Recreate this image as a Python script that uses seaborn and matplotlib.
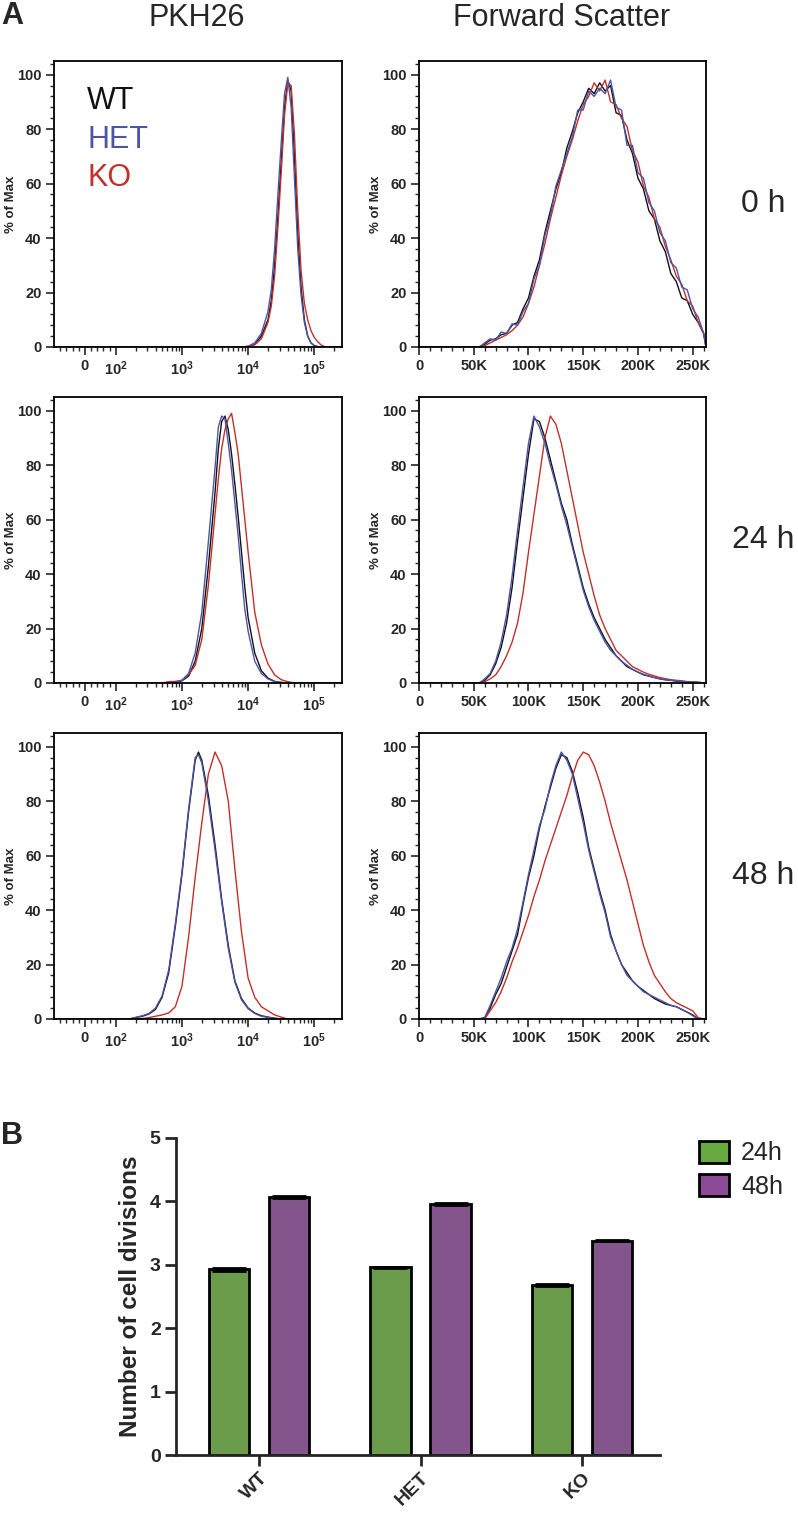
import numpy as np
import pandas as pd
import matplotlib
matplotlib.use("Agg")
import matplotlib.pyplot as plt
import seaborn as sns
from matplotlib.ticker import FixedLocator, MultipleLocator
from matplotlib.patches import Patch

# ---------------- data ----------------
GENOTYPES = ["WT", "HET", "KO"]
COLORS = {"WT": "#111111", "HET": "#4a55a8", "KO": "#c3302a"}

# PKH26 histograms: x grid in log10(fluorescence), y = % of max
PKH_0H_LOG = [3.9, 4.0, 4.1, 4.2, 4.3, 4.35, 4.4, 4.45, 4.5, 4.55, 4.6, 4.65, 4.7,
              4.75, 4.8, 4.85, 4.9, 4.95, 5.0, 5.05, 5.1, 5.15, 5.2]
PKH_0H_WT = [0, 0.2, 1, 4, 10, 17, 30, 48, 68, 88, 98, 94, 70, 42, 22, 10, 4, 1.5, 0.5, 0.1, 0, 0, 0]
PKH_0H_HET = [0, 0.3, 1.5, 5, 13, 21, 36, 56, 75, 93, 99, 88, 62, 36, 19, 9, 4, 1.5, 0.5, 0.2, 0, 0, 0]
PKH_0H_KO = [0, 0.2, 0.8, 3, 9, 15, 26, 44, 64, 85, 97, 96, 78, 50, 28, 16, 10, 6, 3.5, 2, 0.8, 0.2, 0]

PKH_24H_LOG = [2.7, 2.8, 2.9, 3.0, 3.1, 3.2, 3.3, 3.4, 3.5, 3.55, 3.6, 3.65, 3.7, 3.75,
               3.8, 3.85, 3.9, 3.95, 4.0, 4.1, 4.2, 4.3, 4.4, 4.5, 4.6, 4.7]
PKH_24H_WT = [0, 0, 0.2, 0.8, 2.5, 8, 20, 43, 70, 86, 96, 98, 93, 84, 73, 61, 48, 35, 24, 11,
              4.5, 1.8, 0.6, 0.2, 0, 0]
PKH_24H_HET = [0, 0, 0.3, 1, 3.5, 11, 26, 52, 79, 94, 98, 97, 88, 78, 66, 54, 40, 27, 19, 8,
               3.5, 1.5, 0.5, 0.2, 0, 0]
PKH_24H_KO = [0, 0.5, 0.6, 1, 3, 6.5, 16, 36, 62, 75, 86, 93, 97, 99, 92, 84, 72, 60, 48, 26,
              14, 7, 3, 1.2, 0.5, 0]

PKH_48H_LOG = [2.2, 2.3, 2.4, 2.5, 2.6, 2.7, 2.8, 2.9, 3.0, 3.1, 3.2, 3.25, 3.3, 3.4, 3.5,
               3.6, 3.7, 3.8, 3.9, 4.0, 4.1, 4.2, 4.3, 4.4, 4.5, 4.6]
PKH_48H_WT = [0, 0.5, 1, 1.8, 3.5, 8, 17, 34, 53, 76, 95, 98, 95, 82, 64, 44, 27, 14, 7.5, 4,
              2.2, 1.2, 0.7, 0.3, 0, 0]
PKH_48H_HET = [0, 0.6, 1.2, 2, 4, 8.5, 18, 35, 54, 77, 96, 97, 94, 80, 62, 43, 26, 13.5, 7,
               3.8, 2, 1, 0.6, 0.2, 0, 0]
PKH_48H_KO = [0, 0, 0.2, 0.5, 1, 1.5, 2.2, 4.5, 12, 30, 52, 62, 72, 90, 98, 93, 80, 55, 32,
              15, 8, 4.5, 3, 1.5, 0.7, 0]

# Forward scatter histograms: x grid in thousands (K)
FSC_K = [50, 55, 60, 65, 70, 75, 80, 85, 90, 95, 100, 105, 110, 115, 120, 125, 130, 135,
         140, 145, 150, 155, 160, 165, 170, 175, 180, 185, 190, 195, 200, 205, 210, 215,
         220, 225, 230, 235, 240, 245, 250, 255, 260]
FSC_0H_WT = [0, 0, 1, 2.5, 3, 4.5, 5, 8, 9, 14, 18, 26, 32, 42, 50, 58, 64, 73, 79, 86, 90, 95,
             93, 97, 94, 96, 86, 85, 76, 71, 62, 58, 50, 47, 39, 35, 27, 24, 18, 17, 12, 9, 5]
FSC_0H_HET = [0, 0, 1.5, 3, 2.5, 5.5, 5, 8.5, 8, 13, 16, 25, 30, 41, 48, 59, 65, 71, 77, 87, 87,
              94, 92, 95, 93, 98, 88, 87, 74, 74, 64, 62, 53, 50, 42, 39, 31, 29, 22, 21, 14,
              11, 5]
FSC_0H_KO = [0, 0, 0.5, 1.5, 2.5, 3.5, 4.5, 6, 8, 11, 16, 22, 30, 38, 47, 55, 63, 70, 76, 83,
             89, 92, 97, 94, 98, 90, 89, 84, 81, 72, 68, 59, 55, 47, 44, 37, 32, 26, 23, 17,
             15, 9, 5]

FSC_24H_WT = [0, 0, 1, 3, 7, 13, 22, 35, 52, 68, 84, 97, 96, 90, 82, 74, 66, 60, 51, 43, 35,
              29, 24, 20, 16, 13, 10, 8, 6, 5, 4, 3, 2.5, 2, 1.5, 1.2, 1, 0.7, 0.5, 0.4, 0.3,
              0.2, 0]
FSC_24H_HET = [0, 0, 1.5, 3.5, 8, 15, 25, 39, 56, 72, 88, 98, 94, 88, 80, 73, 65, 58, 50, 42,
               34, 28, 23, 19, 15, 12, 10, 8, 6.5, 5, 4, 3.2, 2.6, 2, 1.6, 1.2, 1, 0.8, 0.6,
               0.4, 0.3, 0.2, 0]
FSC_24H_KO = [0, 0, 0.5, 1.5, 3, 6, 10, 15, 22, 33, 48, 62, 76, 90, 98, 95, 88, 78, 68, 58,
              48, 40, 32, 25, 20, 16, 12, 10, 8, 6, 5, 4, 3.2, 2.6, 2, 1.6, 1.2, 1, 0.8, 0.5,
              0.4, 0.3, 0]

FSC_48H_WT = [0, 0, 0.5, 4, 9, 13, 19, 25, 31, 42, 52, 60, 70, 78, 85, 92, 97, 96, 91, 83,
              74, 63, 55, 47, 40, 31, 25, 20, 17, 14, 12, 10.5, 9, 7.5, 6.5, 5.5, 5, 4.5, 3.5,
              2.5, 1.5, 0, 0]
FSC_48H_HET = [0, 0, 0.5, 5, 10, 15, 21, 26, 33, 43, 53, 62, 71, 77, 86, 93, 98, 95, 90, 81,
               72, 62, 54, 46, 39, 30, 25, 20, 16, 14, 12, 10, 9, 8, 7, 6, 5, 4.5, 3.5, 2.5,
               1.2, 0, 0]
FSC_48H_KO = [0, 0, 0, 3, 6, 10, 15, 21, 26, 32, 38, 45, 51, 58, 64, 70, 76, 82, 89, 95, 98,
              97, 93, 87, 80, 72, 65, 58, 51, 43, 35, 27, 21, 16, 13, 10, 7.5, 6, 5, 4, 3,
              0.5, 0]

TIME_LABELS = ["0 h", "24 h", "48 h"]

# panel B
BAR_GROUPS = ["WT", "HET", "KO"]
DIV_24H = [2.93, 2.96, 2.68]
DIV_48H = [4.07, 3.96, 3.38]
SEM_24H = [0.02, 0.01, 0.01]
SEM_48H = [0.01, 0.02, 0.01]
BAR_COLORS = {"24h": "#67a93f", "48h": "#8b4b96"}

# ---------------- style ----------------
sns.set_style("ticks")
plt.rcParams["font.family"] = ["Liberation Sans", "DejaVu Sans"]
plt.rcParams["mathtext.fontset"] = "custom"
plt.rcParams["mathtext.rm"] = "Liberation Sans"
plt.rcParams["mathtext.bf"] = "Liberation Sans:bold"

W, H = 798, 1515
XMIN_LOG, XMAX = -100, 262144


def rect(x0, y0, x1, y1):
    return [x0 / W, 1 - y1 / H, (x1 - x0) / W, (y1 - y0) / H]


def hist_frame(xs, curves):
    parts = []
    for g in GENOTYPES:
        parts.append(pd.DataFrame({"x": xs, "pct": curves[g], "genotype": g}))
    return pd.concat(parts, ignore_index=True)


def style_hist_axis(ax):
    ax.set_ylim(0, 105)
    ax.yaxis.set_major_locator(FixedLocator([0, 20, 40, 60, 80, 100]))
    ax.yaxis.set_minor_locator(MultipleLocator(4))
    for s in ax.spines.values():
        s.set_visible(True)
        s.set_linewidth(1.3)
        s.set_color("black")
    ax.tick_params(which="major", length=6, width=1.2, labelsize=10.5, pad=3)
    ax.tick_params(which="minor", length=3, width=1)
    for lab in ax.get_xticklabels() + ax.get_yticklabels():
        lab.set_fontweight("bold")
    ax.set_xlabel("")
    ax.set_ylabel("% of Max", fontsize=9.5, fontweight="bold")
    ax.yaxis.set_label_coords(-0.13, 0.5)


def draw_hist(ax, df):
    sns.lineplot(data=df, x="x", y="pct", hue="genotype", hue_order=["WT", "KO", "HET"],
                 palette=COLORS, estimator=None, sort=False, legend=False, lw=1.0, ax=ax)


fig = plt.figure(figsize=(W / 100, H / 100), dpi=100)

pkh = [
    (PKH_0H_LOG, PKH_0H_WT, PKH_0H_HET, PKH_0H_KO),
    (PKH_24H_LOG, PKH_24H_WT, PKH_24H_HET, PKH_24H_KO),
    (PKH_48H_LOG, PKH_48H_WT, PKH_48H_HET, PKH_48H_KO),
]
fsc = [
    (FSC_0H_WT, FSC_0H_HET, FSC_0H_KO),
    (FSC_24H_WT, FSC_24H_HET, FSC_24H_KO),
    (FSC_48H_WT, FSC_48H_HET, FSC_48H_KO),
]
bases = [347, 683, 1019]
panel_h = 286

for row, base in enumerate(bases):
    top = base - panel_h
    # ---- PKH26 (biexponential-like axis) ----
    ax = fig.add_axes(rect(54, top, 342, base))
    grid, wt, het, ko = pkh[row]
    xs = [XMIN_LOG] + list(10 ** np.array(grid)) + [XMAX]
    curves = {"WT": [0] + wt + [0], "HET": [0] + het + [0], "KO": [0] + ko + [0]}
    draw_hist(ax, hist_frame(xs, curves))
    ax.set_xscale("symlog", linthresh=100, linscale=0.42)
    ax.set_xlim(XMIN_LOG, XMAX)
    ax.xaxis.set_major_locator(FixedLocator([0, 1e2, 1e3, 1e4, 1e5]))
    ax.set_xticklabels(["0", r"$\mathbf{10^{2}}$", r"$\mathbf{10^{3}}$",
                        r"$\mathbf{10^{4}}$", r"$\mathbf{10^{5}}$"])
    minors = [v for v in range(-80, 100, 20) if v != 0]
    for d in [100, 1000, 10000, 100000]:
        minors += [k * d for k in range(2, 10) if k * d < XMAX]
    ax.xaxis.set_minor_locator(FixedLocator(minors))
    style_hist_axis(ax)
    if row == 0:
        for i, g in enumerate(GENOTYPES):
            ax.text(0.115, 0.86 - i * 0.135, g, transform=ax.transAxes, color=COLORS[g],
                    fontsize=22, va="center", ha="left")

    # ---- Forward scatter (linear axis) ----
    ax2 = fig.add_axes(rect(419, top, 706, base))
    xs2 = [0] + [k * 1000 for k in FSC_K] + [XMAX]
    wt2, het2, ko2 = fsc[row]
    curves2 = {"WT": [0] + wt2 + [0], "HET": [0] + het2 + [0], "KO": [0] + ko2 + [0]}
    draw_hist(ax2, hist_frame(xs2, curves2))
    ax2.set_xlim(0, XMAX)
    ax2.xaxis.set_major_locator(FixedLocator([0, 50000, 100000, 150000, 200000, 250000]))
    ax2.set_xticklabels(["0", "50K", "100K", "150K", "200K", "250K"])
    ax2.xaxis.set_minor_locator(MultipleLocator(10000))
    style_hist_axis(ax2)

    fig.text(763 / W, 1 - (top + panel_h / 2) / H, TIME_LABELS[row], fontsize=23,
             ha="center", va="center")

fig.text(197 / W, 1 - 18 / H, "PKH26", fontsize=22, ha="center", va="center")
fig.text(562 / W, 1 - 18 / H, "Forward Scatter", fontsize=22, ha="center", va="center")
fig.text(1 / W, 1 - 16 / H, "A", fontsize=22, fontweight="bold", ha="left", va="center")
fig.text(1 / W, 1 - 1136 / H, "B", fontsize=22, fontweight="bold", ha="left", va="center")

# ---------------- panel B: bar chart ----------------
axb = fig.add_axes(rect(176, 1138, 660, 1455))
bars = pd.DataFrame({
    "genotype": BAR_GROUPS * 2,
    "time": ["24h"] * 3 + ["48h"] * 3,
    "divisions": DIV_24H + DIV_48H,
    "sem": SEM_24H + SEM_48H,
})
sns.barplot(data=bars, x="genotype", y="divisions", hue="time", palette=BAR_COLORS,
            order=BAR_GROUPS, hue_order=["24h", "48h"], width=0.744, gap=0.33,
            edgecolor="black", linewidth=2, errorbar=None, legend=False, ax=axb)
for cont, t in zip(axb.containers, ["24h", "48h"]):
    sub = bars[bars["time"] == t]
    cx = [p.get_x() + p.get_width() / 2 for p in cont.patches]
    axb.errorbar(cx, sub["divisions"], yerr=sub["sem"], fmt="none", ecolor="black",
                 elinewidth=1.5, capsize=12, capthick=2)
axb.set_ylim(0, 5)
axb.set_xlim(-0.514, 2.483)
axb.set_yticks([0, 1, 2, 3, 4, 5])
sns.despine(ax=axb)
for s in ["left", "bottom"]:
    axb.spines[s].set_linewidth(2)
axb.tick_params(axis="y", length=8, width=2, labelsize=14, pad=3)
axb.tick_params(axis="x", length=8, width=2, labelsize=14, pad=2)
for lab in axb.get_yticklabels():
    lab.set_fontweight("bold")
for lab in axb.get_xticklabels():
    lab.set_fontweight("bold")
    lab.set_rotation(45)
    lab.set_ha("right")
    lab.set_rotation_mode("anchor")
axb.set_xlabel("")
axb.set_ylabel("Number of cell divisions", fontsize=17.5, fontweight="bold", labelpad=6)
handles = [Patch(facecolor=BAR_COLORS[t], edgecolor="black", linewidth=2, label=t)
           for t in ["24h", "48h"]]
axb.legend(handles=handles, loc="upper left", bbox_to_anchor=(676 / W, 1 - 1118 / H),
           bbox_transform=fig.transFigure, frameon=False, fontsize=18,
           handlelength=1.2, handleheight=1.0, handletextpad=0.5, labelspacing=0.35)

fig.savefig("out.png", dpi=100)
